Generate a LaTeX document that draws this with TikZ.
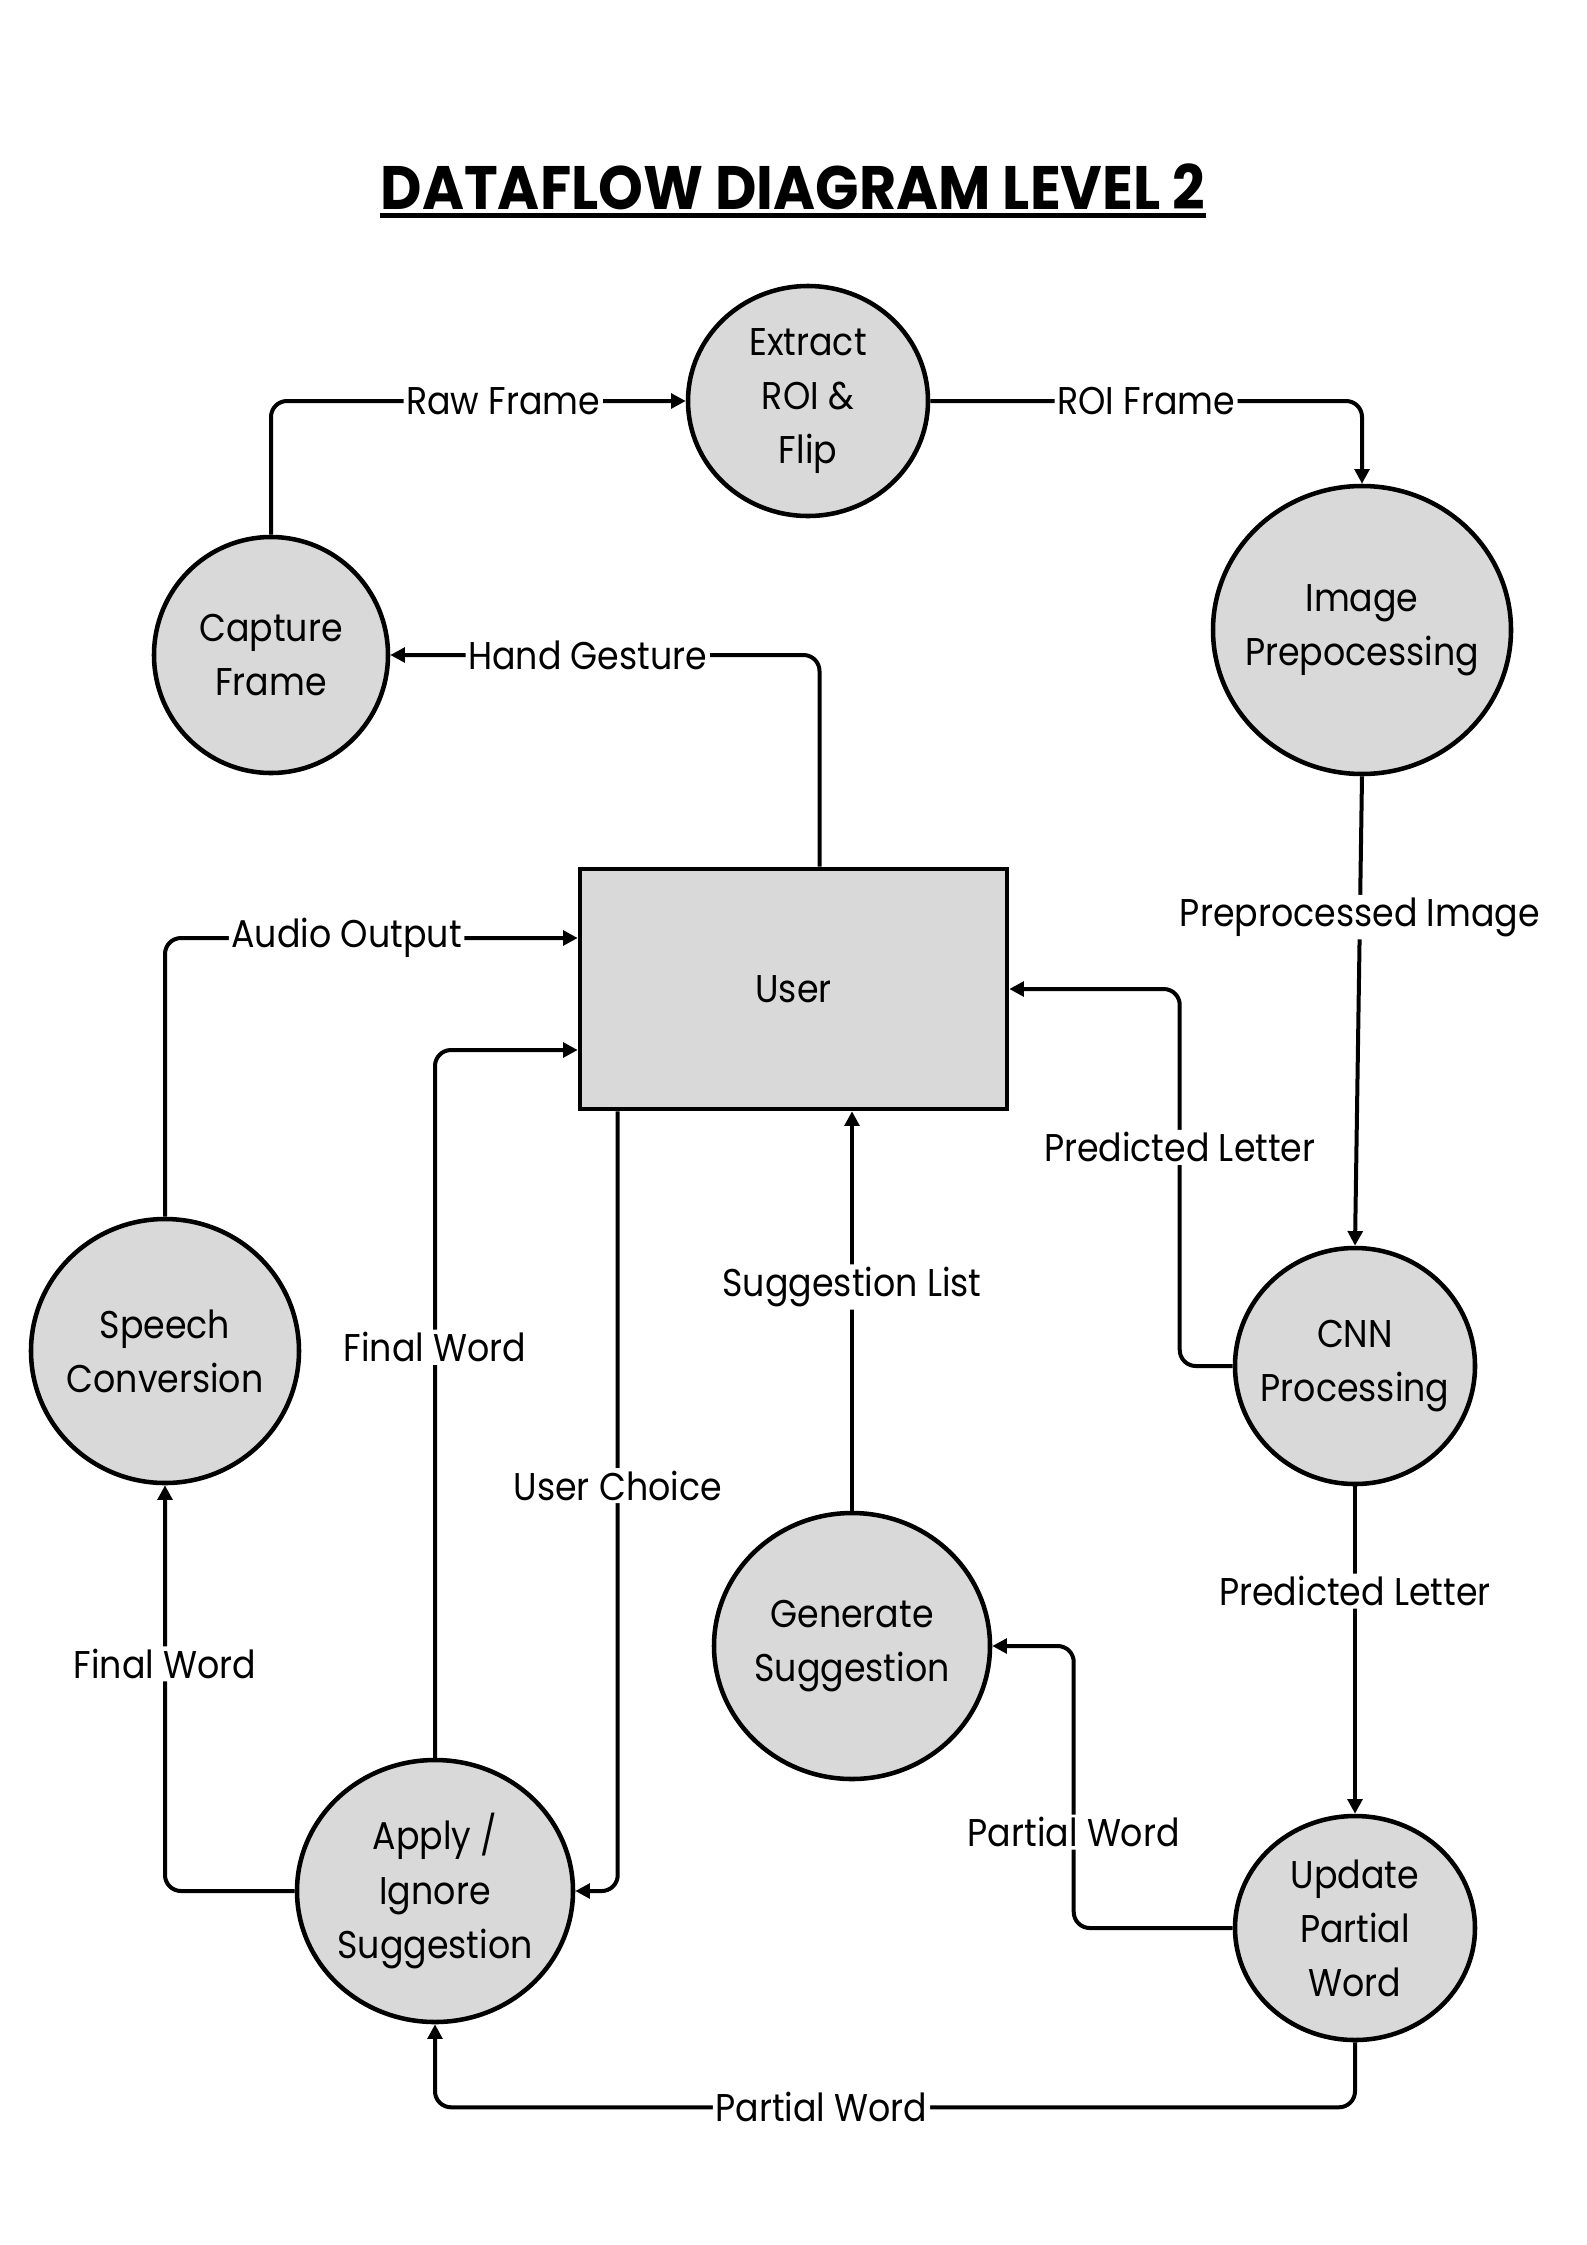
\documentclass[tikz,border=0pt]{standalone}
\usepackage{fontspec}
\setmainfont{Poppins}[FakeStretch=0.9]
\newfontfamily\titlefont{Poppins}[FakeStretch=0.93]
\usetikzlibrary{shapes.geometric,arrows.meta,calc}
\definecolor{procgray}{HTML}{D9D9D9}
\def\unitpx{0.375pt}
\newcommand\nodefont{\fontsize{14.5}{20.3}\selectfont}
\tikzset{
  proc/.style 2 args={ellipse, draw, line width=1.7pt, fill=procgray,
    inner sep=-6pt, align=center, font=\nodefont,
    minimum width=#1*\unitpx, minimum height=#2*\unitpx},
  extent/.style={rectangle, draw, line width=1.7pt, fill=procgray,
    font=\nodefont, minimum width=427*\unitpx, minimum height=240*\unitpx},
  flow/.style={-{Triangle[length=5.5pt,width=5.5pt]}, line width=1.5pt,
    rounded corners=6pt},
  lbl/.style={fill=white, inner sep=1pt, font=\nodefont}
}
\begin{document}
\begin{tikzpicture}[x=0.375pt,y=-0.375pt]
    \useasboundingbox (0,0) rectangle (1587,2245);
    %Title
    \node[inner sep=0pt, font={\titlefont\bfseries\fontsize{23}{28}\selectfont}]
        (title) at (793,187) {DATAFLOW DIAGRAM LEVEL 2};
    \draw[line width=1.9pt] ($(title.base west)+(0,6)$) -- ($(title.base east)+(0,6)$);
    %Processes
    \node[proc={234}{236}] (cap) at (271,655) {Capture\\Frame};
    \node[proc={240}{230}] (roi) at (808,401) {Extract\\ROI \&\\Flip};
    \node[proc={298}{288}] (img) at (1362,630) {Image\\Prepocessing};
    \node[proc={240}{236}] (cnn) at (1355,1366) {CNN\\Processing};
    \node[proc={240}{224}] (upd) at (1355,1928) {Update\\Partial\\Word};
    \node[proc={276}{266}] (gen) at (852,1646) {Generate\\Suggestion};
    \node[proc={276}{262}] (app) at (435,1891) {Apply /\\Ignore\\Suggestion};
    \node[proc={268}{264}] (sp) at (165,1351) {Speech\\Conversion};
    %User
    \node[extent] (user) at (793.5,989) {User};
    %Flows
    \draw[flow] (cap.north) |- (roi.west)
        node[lbl, pos=0.78] {Raw Frame};
    \draw[flow] (roi.east) -| (img.north)
        node[lbl, pos=0.25] {ROI Frame};
    \draw[flow] ($(user.north)+(26,0)$) |- (cap.east)
        node[lbl, pos=0.77] {Hand Gesture};
    \draw[flow] (img.south) -- (cnn.north)
        node[lbl, pos=0.3] {Preprocessed Image};
    \draw[flow] (cnn.west) -- ++(-53,0) |- (user.east)
        node[lbl, pos=0.29] {Predicted Letter};
    \draw[flow] (cnn.south) -- (upd.north)
        node[lbl, pos=0.32] {Predicted Letter};
    \draw[flow] (upd.west) -- ++(-159,0) |- (gen.east)
        node[lbl, pos=0.17] {Partial Word};
    \draw[flow] (upd.south) -- ++(0,65) -| (app.south)
        node[lbl, pos=0.29] {Partial Word};
    \draw[flow] (gen.north) -- (gen.north |- user.south)
        node[lbl, pos=0.56] {Suggestion List};
    \draw[flow] ($(user.south west)+(40,0)$) |- (app.east)
        node[lbl, pos=0.24] {User Choice};
    \draw[flow] (app.north) |- ($(user.west)+(0,61)$)
        node[lbl, pos=0.29] {Final Word};
    \draw[flow] (app.west) -| (sp.south)
        node[lbl, pos=0.78] {Final Word};
    \draw[flow] (sp.north) |- ($(user.west)+(0,-51)$)
        node[lbl, pos=0.72] {Audio Output};
\end{tikzpicture}
\end{document}
